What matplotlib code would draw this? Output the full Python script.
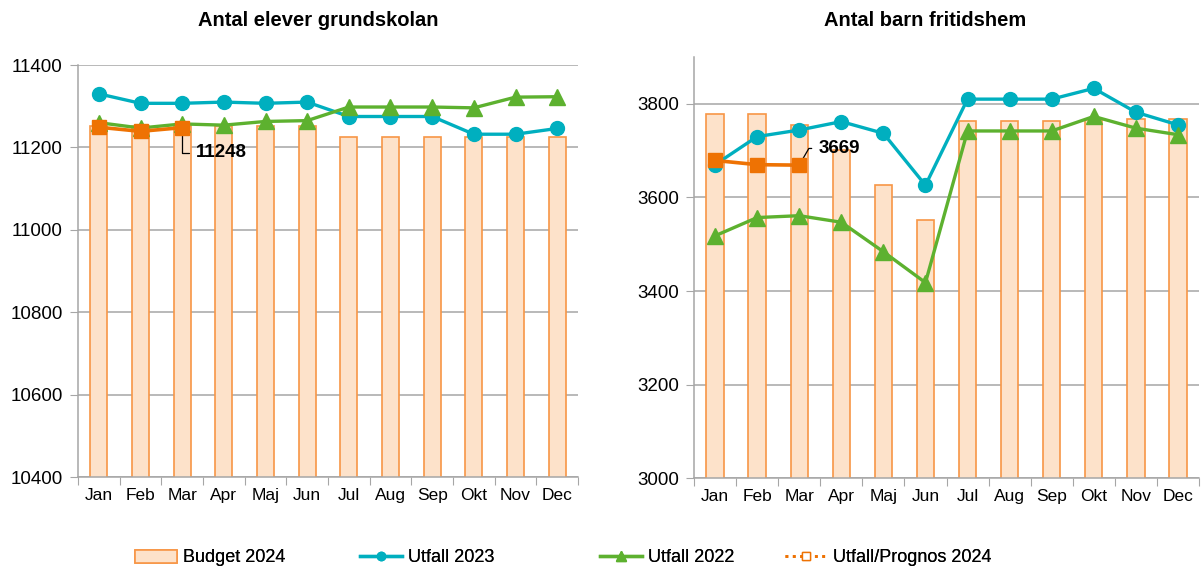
import numpy as np
import matplotlib.pyplot as plt
from matplotlib.lines import Line2D
from matplotlib.patches import Patch

plt.rcParams['font.family'] = ['Liberation Sans', 'DejaVu Sans']

months = ["Jan", "Feb", "Mar", "Apr", "Maj", "Jun", "Jul", "Aug", "Sep", "Okt", "Nov", "Dec"]

# Antal elever grundskolan
skola_budget_2024 = [11252, 11252, 11252, 11252, 11252, 11252, 11225, 11225, 11225, 11225, 11225, 11225]
skola_utfall_2023 = [11330, 11307, 11307, 11310, 11307, 11310, 11275, 11275, 11275, 11232, 11232, 11246]
skola_utfall_2022 = [11260, 11247, 11257, 11254, 11263, 11265, 11298, 11298, 11298, 11296, 11322, 11323]
skola_prognos_2024 = [11249, 11239, 11248]

# Antal barn fritidshem
fritids_budget_2024 = [3778, 3778, 3754, 3702, 3626, 3551, 3764, 3764, 3764, 3765, 3768, 3768]
fritids_utfall_2023 = [3670, 3730, 3744, 3762, 3737, 3626, 3810, 3810, 3810, 3833, 3782, 3755]
fritids_utfall_2022 = [3518, 3557, 3561, 3547, 3484, 3418, 3742, 3742, 3742, 3773, 3748, 3734]
fritids_prognos_2024 = [3679, 3670, 3669]

c_teal = "#00AFBF"
c_green = "#5DB12F"
c_orange = "#EE7203"
c_bar = "#FDE2CA"
c_bar_edge = "#F79646"
c_grid = "#A6A6A6"

fig = plt.figure(figsize=(12.01, 5.70), dpi=100)
ax1 = fig.add_axes([78 / 1201, 1 - 477 / 570, 500 / 1201, 412 / 570])
ax2 = fig.add_axes([694 / 1201, 1 - 478.3 / 570, 505 / 1201, 421.3 / 570])


def draw_panel(ax, budget, u2023, u2022, prognos, ylim, yticks):
    x = np.arange(len(months))
    ax.bar(x, budget, width=0.41, color=c_bar, edgecolor=c_bar_edge, linewidth=1.2, zorder=2)
    ax.plot(x, u2023, color=c_teal, lw=2.4, marker="o", ms=10, zorder=3)
    ax.plot(x, u2022, color=c_green, lw=2.4, marker="^", ms=11, zorder=3)
    xp = np.arange(len(prognos))
    ax.plot(xp, prognos, color=c_orange, lw=2.6, marker="s", ms=10, zorder=4)

    ax.set_ylim(*ylim)
    ax.set_xlim(-0.5, len(months) - 0.5)
    ax.set_yticks(yticks)
    ax.set_yticklabels([str(t) for t in yticks], fontsize=13.5)
    ax.yaxis.grid(True, color=c_grid, lw=1.1, zorder=0)
    ax.set_axisbelow(True)

    # tick marks between months, labels centred under them
    ax.set_xticks(np.arange(-0.5, len(months), 1.0))
    ax.set_xticklabels([])
    ax.set_xticks(x, minor=True)
    ax.set_xticklabels(months, minor=True, fontsize=12.5)
    ax.tick_params(axis="x", which="major", length=6, color=c_grid, direction="out")
    ax.tick_params(axis="x", which="minor", length=0, pad=8)
    ax.tick_params(axis="y", length=6, color=c_grid, pad=5)

    for s in ["top", "right"]:
        ax.spines[s].set_visible(False)
    for s in ["left", "bottom"]:
        ax.spines[s].set_color(c_grid)
        ax.spines[s].set_linewidth(1.1)


draw_panel(ax1, skola_budget_2024, skola_utfall_2023, skola_utfall_2022, skola_prognos_2024,
           (10400, 11400), [10400, 10600, 10800, 11000, 11200, 11400])
draw_panel(ax2, fritids_budget_2024, fritids_utfall_2023, fritids_utfall_2022, fritids_prognos_2024,
           (3000, 3900), [3000, 3200, 3400, 3600, 3800])

fig.text(318 / 1201, 1 - 20 / 570, "Antal elever grundskolan", ha="center", va="center",
         fontsize=14.5, fontweight="bold")
fig.text(925 / 1201, 1 - 20 / 570, "Antal barn fritidshem", ha="center", va="center",
         fontsize=14.5, fontweight="bold")

# data labels for the latest value
ax1.annotate(str(skola_prognos_2024[-1]), xy=(2, skola_prognos_2024[-1]), xytext=(10, -18),
             textcoords="offset points", fontsize=13.5, fontweight="bold", va="center", ha="left",
             arrowprops=dict(arrowstyle="-", color="black", lw=0.9, shrinkA=3, shrinkB=0,
                             connectionstyle="angle,angleA=0,angleB=90,rad=0"))
ax2.annotate(str(fritids_prognos_2024[-1]), xy=(2, fritids_prognos_2024[-1]), xytext=(14, 12),
             textcoords="offset points", fontsize=13.5, fontweight="bold", va="center", ha="left",
             arrowprops=dict(arrowstyle="-", color="black", lw=0.9, shrinkA=3, shrinkB=0,
                             connectionstyle="angle,angleA=0,angleB=60,rad=0"))

handles = [
    Patch(facecolor=c_bar, edgecolor=c_bar_edge, linewidth=1.2),
    Line2D([], [], color=c_teal, lw=2.4, marker="o", ms=6),
    Line2D([], [], color=c_green, lw=2.4, marker="^", ms=7),
    Line2D([], [], color=c_orange, lw=2, ls=":", marker="s", ms=6, mfc="white", mec=c_orange),
]
labels = ["Budget 2024", "Utfall 2023", "Utfall 2022", "Utfall/Prognos 2024"]
legend_x = [135, 360, 600, 785]
for h, lab, lx in zip(handles, labels, legend_x):
    leg = fig.legend([h], [lab], loc="center left", bbox_to_anchor=(lx / 1201, 1 - 558 / 570),
                     frameon=False, fontsize=13, handlelength=2.3, handletextpad=0.35,
                     borderpad=0, borderaxespad=0)
    fig.add_artist(leg)

fig.savefig("out.png", dpi=100)
